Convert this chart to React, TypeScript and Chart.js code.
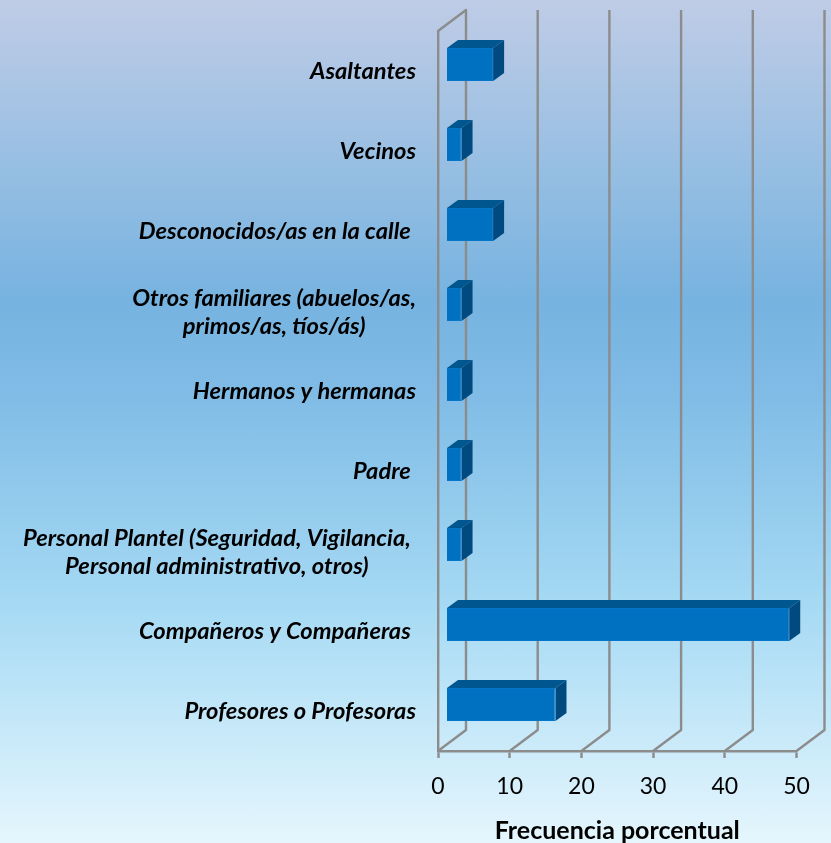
import React, { useEffect, useRef } from "react";
import { Chart, registerables } from "chart.js";

Chart.register(...registerables);

const categories: (string | string[])[] = [
  "Asaltantes",
  "Vecinos",
  "Desconocidos/as en la calle ",
  "Otros familiares (abuelos/as,|primos/as, tíos/ás)".split("|"),
  "Hermanos y hermanas",
  "Padre ",
  "Personal Plantel (Seguridad, Vigilancia, |Personal administrativo, otros) ".split("|"),
  "Compañeros y Compañeras ",
  "Profesores o Profesoras",
];
const values = [6.5, 2.1, 6.5, 2.1, 2.1, 2.1, 2.1, 47.8, 15.2];
const axisTitle = "Frecuencia porcentual";

const FRONT = "#0070C0";
const EDGE = "#0576C8";
const TOP = "#00568F";
const SIDE = "#004A80";
const GRID = "#8C8C8C";

const DEPTH_X = 28;
const DEPTH_Y = 21;
const BAR_SHIFT_X = 8.5;
const BAR_SHIFT_Y = -6.5;
const BAR_DX = 11;
const BAR_DY = 8;

const poly = (ctx: CanvasRenderingContext2D, pts: number[][], fill: string) => {
  ctx.beginPath();
  pts.forEach((p, i) => (i ? ctx.lineTo(p[0], p[1]) : ctx.moveTo(p[0], p[1])));
  ctx.closePath();
  ctx.fillStyle = fill;
  ctx.fill();
};

const centerMultiline = {
  id: "centerMultiline",
  beforeDraw(chart: any) {
    const scale = chart.scales.y;
    const items = scale.getLabelItems(chart.chartArea);
    const ctx = chart.ctx;
    items.forEach((item: any) => {
      if (!Array.isArray(item.label) || item.options.textAlign !== "right") return;
      ctx.save();
      ctx.font = item.font.string;
      const w = Math.max(...item.label.map((l: string) => ctx.measureText(l).width));
      ctx.restore();
      item.options.textAlign = "center";
      item.options.translation = [item.options.translation[0] - w / 2, item.options.translation[1] + 1.5];
    });
  },
};

const wallPlugin = {
  id: "walls",
  beforeDatasetsDraw(chart: any) {
    const { ctx, chartArea, scales } = chart;
    const { top, bottom } = chartArea;
    ctx.save();
    ctx.strokeStyle = GRID;
    ctx.lineWidth = 2.4;
    ctx.lineJoin = "round";
    scales.x.ticks.forEach((t: any) => {
      const x = scales.x.getPixelForValue(t.value);
      ctx.beginPath();
      ctx.moveTo(x, bottom);
      ctx.lineTo(x + DEPTH_X, bottom - DEPTH_Y);
      ctx.lineTo(x + DEPTH_X, top - DEPTH_Y);
      if (t.value === 0) ctx.lineTo(x, top);
      ctx.stroke();
    });
    ctx.restore();
  },
};

const bar3d = {
  id: "bar3d",
  beforeDatasetsDraw(chart: any) {
    const { ctx } = chart;
    ctx.save();
    ctx.translate(BAR_SHIFT_X, BAR_SHIFT_Y);
    chart.getDatasetMeta(0).data.forEach((b: any) => {
      const { x, y, base, height } = b.getProps(["x", "y", "base", "height"], true);
      const t = y - height / 2;
      const bt = y + height / 2;
      poly(ctx, [[base, t], [base + BAR_DX, t - BAR_DY], [x + BAR_DX, t - BAR_DY], [x, t]], TOP);
      poly(ctx, [[x, t], [x + BAR_DX, t - BAR_DY], [x + BAR_DX, bt - BAR_DY], [x, bt]], SIDE);
    });
  },
  afterDatasetsDraw(chart: any) {
    chart.ctx.restore();
  },
};

export default function App() {
  const ref = useRef<HTMLCanvasElement>(null);
  useEffect(() => {
    const chart = new Chart(ref.current!, {
      type: "bar",
      data: {
        labels: categories as any,
        datasets: [
          {
            data: values,
            backgroundColor: FRONT,
            borderColor: EDGE,
            borderWidth: 1,
            categoryPercentage: 1,
            barPercentage: 0.41,
            clip: false as any,
          },
        ],
      },
      plugins: [centerMultiline, wallPlugin, bar3d],
      options: {
        indexAxis: "y",
        animation: false,
        responsive: false,
        devicePixelRatio: 1,
        layout: { padding: { top: 31, right: 34.5, left: 0, bottom: 0 } },
        plugins: { legend: { display: false }, tooltip: { enabled: false } },
        scales: {
          x: {
            type: "linear",
            min: 0,
            max: 50,
            afterFit: (s: any) => {
              s.height = 92;
              s.paddingLeft = 0;
              s.paddingRight = 0;
            },
            ticks: {
              stepSize: 10,
              maxRotation: 0,
              color: "#000",
              padding: 15,
              font: { family: "Lato", size: 23 },
            },
            grid: {
              drawOnChartArea: false,
              drawTicks: true,
              tickLength: 7,
              tickColor: GRID,
              tickWidth: 2.4,
            },
            border: { color: GRID, width: 2.4 },
            title: {
              display: true,
              text: axisTitle,
              color: "#000",
              padding: { top: 9, bottom: -3 },
              font: { family: "Lato", size: 25, weight: "bold" },
            },
          },
          y: {
            type: "category",
            afterFit: (s: any) => {
              s.width = 438;
              s.paddingTop = 0;
              s.paddingBottom = 0;
            },
            ticks: {
              autoSkip: false,
              color: "#000",
              padding: 22,
              font: { family: "Lato", size: 23.7, weight: "bold", style: "italic", lineHeight: 1.19 },
            },
            grid: { display: false, drawTicks: false },
            border: { color: GRID, width: 2.4 },
          },
        },
      },
    });
    return () => chart.destroy();
  }, []);
  return (
    <div
      style={{
        position: "fixed",
        left: 0,
        top: 0,
        width: 831,
        height: 843,
        overflow: "hidden",
        background:
          "linear-gradient(180deg, #BFCCE6 0%, #76B3E0 36%, #80BCE6 47%, #A6DAF4 72%, #E5F6FD 100%)",
      }}
    >
      <canvas ref={ref} width={831} height={843} style={{ display: "block" }} />
    </div>
  );
}
